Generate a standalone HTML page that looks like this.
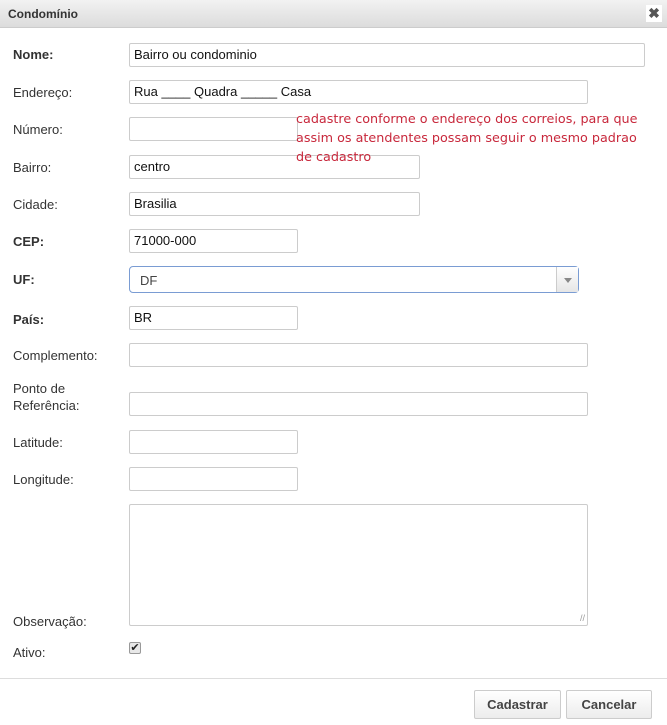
<!DOCTYPE html>
<html><head><meta charset="utf-8"><style>
*{box-sizing:border-box}
body{margin:0;width:667px;height:725px;background:#fff;font-family:"Liberation Sans",Arial,sans-serif;font-size:13px;color:#333;position:relative;overflow:hidden}
.title{position:absolute;left:0;top:0;width:667px;height:28px;background:linear-gradient(#f2f2f2,#dcdcdc);border-bottom:1px solid #ccc}
.title span{position:absolute;left:8px;top:7px;font-weight:bold;font-size:12px;color:#333}
.close{position:absolute;right:5px;top:5px;width:16px;height:17px;background:#fff;font-weight:bold;font-size:14px;line-height:17px;text-align:center;color:#555}
.l{position:absolute;left:13px;font-size:13px;color:#333}
.b{font-weight:bold}
.i{position:absolute;left:129px;border:1px solid #ccc;border-radius:2px;background:#fff;height:24px;padding:3px 4px;font-size:13px;color:#111;line-height:16px}
.hint{position:absolute;z-index:5;left:296px;top:110px;white-space:nowrap;font-family:"DejaVu Sans",sans-serif;font-size:12.75px;line-height:19px;color:#c8283c}
.sep{position:absolute;left:0;top:678px;width:667px;border-top:1px solid #ddd}
.btn{position:absolute;top:690px;height:29px;border:1px solid #ccc;border-radius:2px;background:linear-gradient(#fff,#ececec);font-weight:bold;font-size:13px;color:#444;text-align:center;line-height:27px}
</style></head><body>
<div class="title"><span>Condomínio</span><div class="close">✖</div></div>

<div class="l b" style="top:47px">Nome:</div>
<div class="i" style="top:43px;width:516px">Bairro ou condominio</div>

<div class="l" style="top:85px">Endereço:</div>
<div class="i" style="top:80px;width:459px">Rua ____ Quadra _____ Casa</div>

<div class="l" style="top:122px">Número:</div>
<div class="i" style="top:117px;width:169px"></div>

<div class="hint">cadastre conforme o endereço dos correios, para que<br>assim os atendentes possam seguir o mesmo padrao<br>de cadastro</div>

<div class="l" style="top:160px">Bairro:</div>
<div class="i" style="top:155px;width:291px">centro</div>

<div class="l" style="top:197px">Cidade:</div>
<div class="i" style="top:192px;width:291px">Brasilia</div>

<div class="l b" style="top:234px">CEP:</div>
<div class="i" style="top:229px;width:169px">71000-000</div>

<div class="l b" style="top:272px">UF:</div>
<div class="i" style="top:266px;width:450px;height:27px;border-color:#7a9cd3;border-radius:4px;padding:6px 10px;color:#444">DF
<div style="position:absolute;right:0;top:0;width:22px;height:25px;border-left:1px solid #ccc;background:linear-gradient(#fff,#e6e6e6)"><div style="position:absolute;left:7px;top:11px;border-left:4px solid transparent;border-right:4px solid transparent;border-top:5px solid #888"></div></div></div>

<div class="l b" style="top:312px">País:</div>
<div class="i" style="top:306px;width:169px">BR</div>

<div class="l" style="top:348px">Complemento:</div>
<div class="i" style="top:343px;width:459px"></div>

<div class="l" style="top:380px;line-height:17px">Ponto de<br>Referência:</div>
<div class="i" style="top:392px;width:459px"></div>

<div class="l" style="top:435px">Latitude:</div>
<div class="i" style="top:430px;width:169px"></div>

<div class="l" style="top:472px">Longitude:</div>
<div class="i" style="top:467px;width:169px"></div>

<div class="i" style="top:504px;width:459px;height:122px"><div style="position:absolute;right:2px;bottom:2px;color:#999;font-size:9px;line-height:9px">//</div></div>
<div class="l" style="top:614px">Observação:</div>

<div class="l" style="top:645px">Ativo:</div>
<div style="position:absolute;left:129px;top:642px;width:12px;height:12px;border:1px solid #999;border-radius:2px;background:#e8e8e8;font-size:11px;line-height:10px;text-align:center;color:#222">✔</div>

<div class="sep"></div>
<div class="btn" style="left:474px;width:87px">Cadastrar</div>
<div class="btn" style="left:566px;width:86px">Cancelar</div>
</body></html>
